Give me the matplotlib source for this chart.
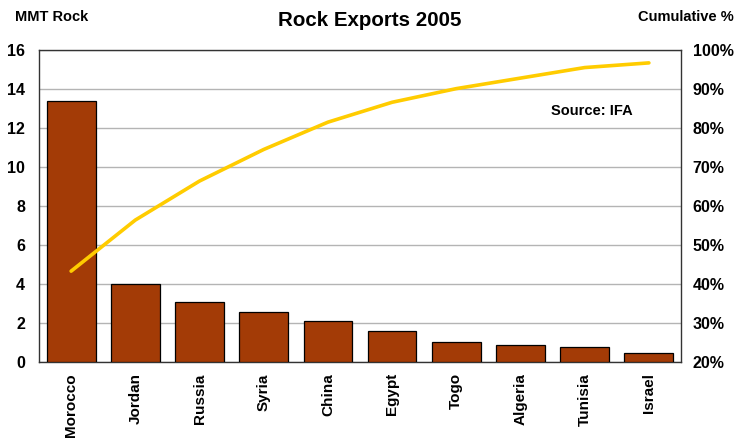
import matplotlib.pyplot as plt
from matplotlib.ticker import FuncFormatter

# Data
countries = ['Morocco', 'Jordan', 'Russia', 'Syria', 'China',
             'Egypt', 'Togo', 'Algeria', 'Tunisia', 'Israel']
exports = [13.4, 4.0, 3.1, 2.55, 2.1, 1.6, 1.04, 0.86, 0.79, 0.46]  # MMT rock
cumulative = [43.3, 56.4, 66.4, 74.5, 81.5, 86.6, 90.1, 92.8, 95.5, 96.7]  # %

BAR_COLOR = '#A33B06'
LINE_COLOR = '#FFCC00'
GRID_COLOR = '#B4B4B4'
FONT = 'Liberation Sans'

plt.rcParams['font.family'] = FONT
plt.rcParams['font.weight'] = 'bold'

fig = plt.figure(figsize=(7.39, 4.43), dpi=100)
ax = fig.add_axes([0.0528, 0.1828, 0.8687, 0.7043])

x = range(len(countries))
ax.bar(x, exports, width=0.76, color=BAR_COLOR, edgecolor='black',
       linewidth=0.9, zorder=3)
ax.set_xlim(-0.5, len(countries) - 0.5)
ax.set_ylim(0, 16)
ax.set_yticks(range(0, 17, 2))
ax.yaxis.grid(True, color=GRID_COLOR, linewidth=1.0, zorder=0)
ax.set_axisbelow(True)
ax.set_xticks(list(x))
ax.set_xticklabels(countries, rotation=90, fontsize=11, fontweight='bold')
ax.tick_params(axis='both', length=0)
ax.tick_params(axis='x', pad=8)
ax.tick_params(axis='y', labelsize=11.5, pad=10)
for side in ['left', 'top', 'right', 'bottom']:
    ax.spines[side].set_color('#333333')
    ax.spines[side].set_linewidth(1.0)

ax2 = ax.twinx()
ax2.plot(list(x), cumulative, color=LINE_COLOR, linewidth=2.6,
         solid_capstyle='round', zorder=4)
ax2.set_ylim(20, 100)
ax2.set_yticks(range(20, 101, 10))
ax2.yaxis.set_major_formatter(FuncFormatter(lambda v, p: '%d%%' % v))
ax2.tick_params(axis='y', length=0, labelsize=11.5, pad=8.5)
for side in ['left', 'top', 'right', 'bottom']:
    ax2.spines[side].set_visible(False)

fig.text(0.5, 0.953, 'Rock Exports 2005', ha='center', va='center',
         fontsize=14.8, fontweight='bold')
fig.text(0.02, 0.962, 'MMT Rock', ha='left', va='center',
         fontsize=10.5, fontweight='bold')
fig.text(0.993, 0.962, 'Cumulative %', ha='right', va='center',
         fontsize=10.5, fontweight='bold')
ax.text(0.861, 0.805, 'Source: IFA', transform=ax.transAxes,
        ha='center', va='center', fontsize=10.5, fontweight='bold')

fig.savefig('out.png', dpi=100)
